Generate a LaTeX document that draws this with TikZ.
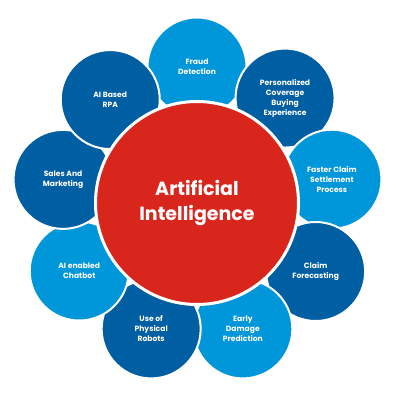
\documentclass[tikz,border=0pt]{standalone}
\usepackage{fontspec}
\setmainfont{Poppins}
\definecolor{lb}{RGB}{0,150,218}
\definecolor{db}{RGB}{0,94,162}
\definecolor{aired}{RGB}{217,38,29}
\begin{document}
\begin{tikzpicture}[x=1pt,y=1pt,
  petal/.style={circle, minimum size=99pt, inner sep=0pt, draw=white, line width=2pt,
    text=white, font=\fontsize{7.6}{10}\selectfont\bfseries, align=center},
  hub/.style={circle, minimum size=203pt, inner sep=0pt, draw=white, line width=3pt, fill=aired,
    text=white, font=\fontsize{19}{25}\selectfont\bfseries, align=center}]
\useasboundingbox (0,0) rectangle (400,400);
\coordinate (c) at (197,197);
\node[petal, fill=lb] (fraud) at ([shift={(90:136)}]c) {Fraud\\Detection};
\node[petal, fill=db] (pers) at ([shift={(50:137)}]c) {Personalized\\Coverage\\Buying\\Experience};
\node[petal, fill=lb] (fast) at ([shift={(10:137)}]c) {Faster Claim\\Settlement\\Process};
\node[petal, fill=db] (fore) at ([shift={(-30:137)}]c) {Claim\\Forecasting};
\node[petal, fill=lb] (early) at ([shift={(-70:134)}]c) {Early\\Damage\\Prediction};
\node[petal, fill=db] (robot) at ([shift={(-110:134)}]c) {Use of\\Physical\\Robots};
\node[petal, fill=lb] (chat) at ([shift={(-150:136)}]c) {AI enabled\\Chatbot};
\node[petal, fill=db] (sales) at ([shift={(170:136)}]c) {Sales And\\Marketing};
\node[petal, fill=db] (rpa) at ([shift={(130:135)}]c) {AI Based\\RPA};
\node[hub] (ai) at (c) {Artificial\\Intelligence};
\end{tikzpicture}
\end{document}
